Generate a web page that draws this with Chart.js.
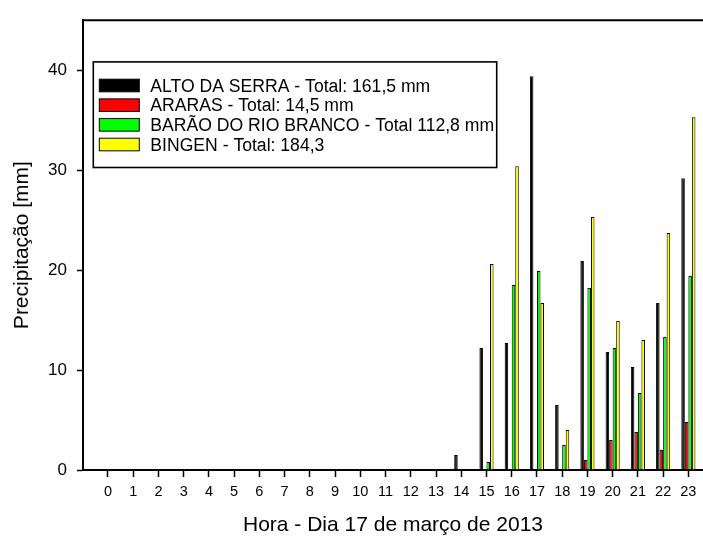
<!DOCTYPE html>
<html>
<head>
<meta charset="utf-8">
<script src="https://cdn.jsdelivr.net/npm/chart.js@4"></script>
<style>
html, body { margin: 0; padding: 0; background: #fff; overflow: hidden; }
canvas { display: block; background: #fff; }
</style>
</head>
<body>
<canvas id="c" width="703" height="536"></canvas>
<script>
// ---- data ----
const hours = [0, 1, 2, 3, 4, 5, 6, 7, 8, 9, 10, 11, 12, 13, 14, 15, 16, 17, 18, 19, 20, 21, 22, 23];
const seriesNames = [
  'ALTO DA SERRA - Total: 161,5 mm',
  'ARARAS - Total: 14,5 mm',
  'BARÃO DO RIO BRANCO - Total 112,8 mm',
  'BINGEN - Total: 184,3'
];
const altoDaSerra = [0, 0, 0, 0, 0, 0, 0, 0, 0, 0, 0, 0, 0, 0, 1.5, 12.2, 12.7, 39.4, 6.5, 20.9, 11.8, 10.3, 16.7, 29.2];
const araras      = [0, 0, 0, 0, 0, 0, 0, 0, 0, 0, 0, 0, 0, 0, 0, 0, 0, 0, 0, 1.0, 3.0, 3.8, 2.0, 4.8];
const baraoRioBranco = [0, 0, 0, 0, 0, 0, 0, 0, 0, 0, 0, 0, 0, 0, 0, 0.8, 18.5, 19.9, 2.5, 18.2, 12.2, 7.7, 13.3, 19.4];
const bingen      = [0, 0, 0, 0, 0, 0, 0, 0, 0, 0, 0, 0, 0, 0, 0, 20.6, 30.4, 16.7, 4.0, 25.3, 14.9, 13.0, 23.7, 35.3];
const yTickValues = [0, 10, 20, 30, 40];
const xTitle = 'Hora - Dia 17 de março de 2013';
const yTitle = 'Precipitação [mm]';

// ---- styling ----
const seriesColors = ['#000000', '#ff0000', '#00ff00', '#ffff00'];
const seriesValues = [altoDaSerra, araras, baraoRioBranco, bingen];
const FONT = '"Liberation Sans", Arial, sans-serif';

const framePlugin = {
  id: 'frame',
  afterDatasetsDraw(chart) {
    const { ctx, chartArea: a } = chart;
    ctx.save();
    ctx.strokeStyle = '#000';
    ctx.lineWidth = 2;
    ctx.beginPath();
    ctx.moveTo(a.left - 1, a.top);
    ctx.lineTo(a.right + 2, a.top);
    ctx.stroke();
    ctx.restore();
  }
};

const boxLegendPlugin = {
  id: 'boxLegend',
  afterDraw(chart) {
    const { ctx, chartArea: a } = chart;
    const bx = a.left + 10.3, by = a.top + 41.7, bw = 403.4, bh = 105.6;
    ctx.save();
    ctx.fillStyle = '#fff';
    ctx.fillRect(bx, by, bw, bh);
    ctx.strokeStyle = '#000';
    ctx.lineWidth = 1.6;
    ctx.strokeRect(bx, by, bw, bh);
    ctx.font = '17.6px ' + FONT;
    ctx.textBaseline = 'alphabetic';
    chart.data.datasets.forEach((ds, i) => {
      const cy = by + 23.6 + i * 19.67;
      ctx.fillStyle = ds.backgroundColor;
      ctx.fillRect(bx + 6, cy - 6.3, 40, 12.6);
      ctx.strokeStyle = '#000';
      ctx.lineWidth = 1;
      ctx.strokeRect(bx + 6, cy - 6.3, 40, 12.6);
      ctx.fillStyle = '#000';
      ctx.fillText(ds.label, bx + 57, cy + 6);
    });
    ctx.restore();
  }
};

new Chart(document.getElementById('c'), {
  type: 'bar',
  data: {
    datasets: seriesNames.map((name, i) => ({
      label: name,
      data: hours.map((h, j) => ({ x: h, y: seriesValues[i][j] })),
      backgroundColor: seriesColors[i],
      borderColor: '#000',
      borderWidth: 1,
      borderSkipped: 'start',
      categoryPercentage: 0.56,
      barPercentage: 1.0
    }))
  },
  options: {
    responsive: false,
    animation: false,
    events: [],
    layout: { padding: { top: 15, left: 0, right: 0, bottom: 0 } },
    plugins: { legend: { display: false }, tooltip: { enabled: false } },
    scales: {
      x: {
        type: 'linear',
        min: -0.99,
        max: 23.58,
        offset: false,
        afterBuildTicks: s => { s.ticks = hours.map(v => ({ value: v })); },
        afterFit: s => { s.height = 66; },
        border: { display: true, color: '#000', width: 2 },
        grid: { display: true, offset: false, drawOnChartArea: false, drawTicks: true, tickLength: 7, tickColor: '#000', tickWidth: 1.5 },
        ticks: { autoSkip: false, maxRotation: 0, minRotation: 0, padding: 6, color: '#000', font: { family: FONT, size: 14.5 } },
        title: { display: true, text: xTitle, color: '#000', font: { family: FONT, size: 21, lineHeight: 1 }, padding: { top: 0, bottom: 0 } }
      },
      y: {
        min: 0,
        max: 45,
        afterBuildTicks: s => { s.ticks = yTickValues.map(v => ({ value: v })); },
        afterFit: s => { s.width = 83; },
        border: { display: true, color: '#000', width: 2 },
        grid: { display: true, drawOnChartArea: false, drawTicks: true, tickLength: 6, tickColor: '#000', tickWidth: 1.5 },
        ticks: { padding: 10, color: '#000', font: { family: FONT, size: 17 } },
        title: { display: true, text: yTitle, color: '#000', font: { family: FONT, size: 21, lineHeight: 1 }, padding: { top: 12, bottom: 0 } }
      }
    }
  },
  plugins: [framePlugin, boxLegendPlugin]
});
</script>
</body>
</html>
